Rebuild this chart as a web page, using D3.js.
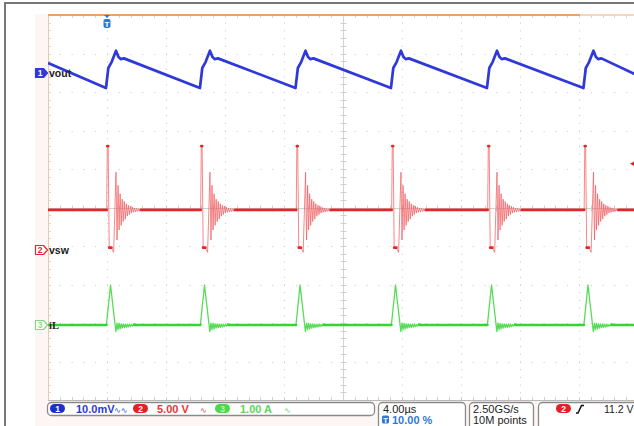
<!DOCTYPE html>
<html><head><meta charset="utf-8">
<script src="https://cdn.jsdelivr.net/npm/d3@7"></script>
<style>body{margin:0;background:#fff}svg{display:block}</style>
</head><body><svg id="c" width="634" height="426"></svg>
<script>
// ---------------- DATA ----------------
// switching instants (µs, trigger = 0)
const eventTimes = [0, 6.37, 12.85, 19.32, 25.83, 32.37];
// ch1 vout, one switching cycle (µs offset, mV)
const voutT = [-0.07, 0.09, 0.32, 0.61, 0.77, 0.93, 1.15];
const voutV = [-3.9, 1.3, 2.9, 5.8, 4.2, 3.6, 3.8];
const voutEdge = [2.6, -0.7];          // mV at left / right screen edge
// ch2 vsw, one switching cycle (µs offset, V)
const vswT = [-0.02, 0.02, 0.08, 0.15, 0.30, 0.45, 0.61, 0.68, 0.75, 0.82, 0.89, 0.96, 1.03, 1.10, 1.17, 1.24, 1.31, 1.38, 1.45, 1.52, 1.59, 1.66, 1.73, 1.80, 1.87, 1.94, 2.01, 2.08, 2.15, 2.22, 2.30];
const vswV = [5.2, 13.5, 13.5, 0.3, 0.3, -0.3, 10.1, 1.3, 8.4, 2.6, 7.3, 3.2, 6.6, 3.7, 6.3, 4.0, 6.0, 4.4, 5.8, 4.6, 5.7, 4.8, 5.55, 4.9, 5.45, 4.95, 5.4, 5.0, 5.35, 5.05, 5.2];
const vswEdge = [5.2, 5.2];
// ch3 iL, one switching cycle (µs offset, A)
const iLT = [-0.04, 0.24, 0.60, 0.68, 0.75, 0.82, 0.89, 0.96, 1.03, 1.10, 1.17, 1.24, 1.31, 1.38, 1.45, 1.52, 1.59, 1.66, 1.73, 1.83, 1.95];
const iLV = [0.0, 1.04, -0.17, 0.05, -0.12, 0.04, -0.10, 0.03, -0.08, 0.03, -0.07, 0.02, -0.06, 0.02, -0.05, 0.02, -0.04, 0.01, -0.03, 0.01, 0.0];
const iLEdge = [0.0, 0.0];
// labels / readouts
const channelNames = ["vout", "vsw", "iL"];
const channelNums = ["1", "2", "3"];
const channelScales = ["10.0mV", "5.00 V", "1.00 A"];
const horizReadout = ["4.00µs", "10.00 %"];
const acqReadout = ["2.50GS/s", "10M points"];
const trigReadout = ["2", "11.2 V"];
const timeDomain = [-4, 36];
const trigLevelV = 11.2;

// ---------------- LAYOUT ----------------
const svg = d3.select("#c");
const GX = 48, GY = 15, GW = 590, GH = 385;
const xDiv = d3.scaleLinear().domain([0, 10]).range([GX, GX + GW]);
const yDiv = d3.scaleLinear().domain([0, 10]).range([GY, GY + GH]);
const x = d3.scaleLinear().domain(timeDomain).range([GX, GX + GW]);
const DH = GH / 10;
// per-channel vertical scales: zero-marker position & units/div
const chZero = [73, 250, 325];
const chPerDiv = [10, 5, 1];
const yS = chZero.map((z, i) => d3.scaleLinear().domain([0, chPerDiv[i]]).range([z, z - DH]));
const colors = ["#2f38d8", "#e4262b", "#35d435"];

// background
svg.append("rect").attr("width", 634).attr("height", 426).attr("fill", "#fff");
svg.append("rect").attr("x", 35).attr("y", 14).attr("width", 600).attr("height", 412).attr("fill", "#fdf6f4");
svg.append("rect").attr("x", GX).attr("y", GY).attr("width", GW).attr("height", GH).attr("fill", "#fff");
// outer frame
svg.append("path").attr("d", "M5,426 V3 H634").attr("fill", "none").attr("stroke", "#777").attr("stroke-width", 2);

// ---------------- GRID ----------------
const grid = svg.append("g");
d3.range(1, 11).filter(i => i !== 5).forEach(i => {
  grid.append("line").attr("x1", Math.round(xDiv(i)) + 0.5).attr("x2", Math.round(xDiv(i)) + 0.5)
    .attr("y1", GY).attr("y2", GY + GH).attr("stroke", "#c8c8c8").attr("stroke-dasharray", `1,${DH / 5 - 1}`);
});
d3.range(1, 10).filter(j => j !== 5).forEach(j => {
  grid.append("line").attr("y1", Math.round(yDiv(j)) + 0.5).attr("y2", Math.round(yDiv(j)) + 0.5)
    .attr("x1", GX).attr("x2", GX + GW).attr("stroke", "#c8c8c8").attr("stroke-dasharray", `1,${GW / 50 - 1}`);
});
const cx = Math.round(xDiv(5)) + 0.5, cy = Math.round(yDiv(5)) + 0.5;
grid.append("line").attr("x1", cx).attr("x2", cx).attr("y1", GY).attr("y2", GY + GH).attr("stroke", "#d2d2d2");
grid.append("line").attr("x1", GX).attr("x2", GX + GW).attr("y1", cy).attr("y2", cy).attr("stroke", "#d2d2d2");
d3.range(1, 50).forEach(k => {
  const yy = Math.round(yDiv(k / 5)) + 0.5;
  grid.append("line").attr("x1", cx - 3).attr("x2", cx + 3).attr("y1", yy).attr("y2", yy).attr("stroke", "#cfcfcf");
  grid.append("line").attr("x1", GX).attr("x2", GX + 3).attr("y1", yy).attr("y2", yy).attr("stroke", "#e6cfc0");
});
d3.range(1, 50).forEach(k => {
  const xx = Math.round(xDiv(k / 5)) + 0.5;
  grid.append("line").attr("y1", cy - 3).attr("y2", cy + 3).attr("x1", xx).attr("x2", xx).attr("stroke", "#cfcfcf");
  grid.append("line").attr("y1", GY + GH - 3).attr("y2", GY + GH).attr("x1", xx).attr("x2", xx).attr("stroke", "#cfcfcf");
  grid.append("line").attr("y1", GY).attr("y2", GY + 3).attr("x1", xx).attr("x2", xx).attr("stroke", "#d8d8d8");
});
// frame edges
grid.append("line").attr("x1", GX + 0.5).attr("x2", GX + 0.5).attr("y1", GY).attr("y2", GY + GH).attr("stroke", "#e7c9b4");
grid.append("line").attr("x1", GX).attr("x2", GX + GW).attr("y1", GY + GH + 0.5).attr("y2", GY + GH + 0.5).attr("stroke", "#b8b8b8");
grid.append("line").attr("x1", GX).attr("x2", 580).attr("y1", GY).attr("y2", GY).attr("stroke", "#e0883c").attr("stroke-width", 1.6);
grid.append("line").attr("x1", 580).attr("x2", 634).attr("y1", GY).attr("y2", GY).attr("stroke", "#f2cba8").attr("stroke-width", 1.6);

// ---------------- TRACES ----------------
function buildSeries(tT, tV, edge) {
  const pts = [[timeDomain[0], edge[0]]];
  eventTimes.forEach(ev => tT.forEach((t, i) => pts.push([ev + t, tV[i]])));
  pts.push([timeDomain[1], edge[1]]);
  return pts;
}
const series = [buildSeries(voutT, voutV, voutEdge), buildSeries(vswT, vswV, vswEdge), buildSeries(iLT, iLV, iLEdge)];
svg.append("clipPath").attr("id", "pc").append("rect").attr("x", GX).attr("y", GY).attr("width", GW).attr("height", GH);
const traces = svg.append("g").attr("clip-path", "url(#pc)");
const thin = [{w: 2.7, c: colors[0], o: 1}, {w: 0.9, c: "#f05a5e", o: 0.8}, {w: 1.3, c: "#55dd55", o: 1}];
const flatTol = [null, 0.1, 0.015];
series.forEach((pts, i) => {
  const line = d3.line().x(d => x(d[0])).y(d => yS[i](d[1]));
  traces.append("path").attr("d", line(pts)).attr("fill", "none")
    .attr("stroke", thin[i].c).attr("stroke-width", thin[i].w).attr("stroke-opacity", thin[i].o)
    .attr("stroke-linejoin", "round");
  if (flatTol[i] !== null) {
    const segs = [];
    for (let k = 0; k < pts.length - 1; k++) {
      if (Math.abs(pts[k + 1][1] - pts[k][1]) < flatTol[i]) segs.push([pts[k], pts[k + 1]]);
    }
    traces.selectAll(null).data(segs).enter().append("line")
      .attr("x1", d => x(d[0][0])).attr("x2", d => x(d[1][0]))
      .attr("y1", d => yS[i](d[0][1])).attr("y2", d => yS[i](d[1][1]))
      .attr("stroke", colors[i]).attr("stroke-width", 2.7).attr("stroke-linecap", "round");
  }
});

// ---------------- MARKERS ----------------
// trigger position marker
const tx = x(0);
svg.append("path").attr("d", `M${tx - 3},${GY} L${tx + 3},${GY} L${tx},${GY + 3} Z`).attr("fill", "#2f78d8");
svg.append("rect").attr("x", tx - 3.5).attr("y", GY + 4).attr("width", 7).attr("height", 9).attr("rx", 2).attr("fill", "#2f78d8");
svg.append("text").attr("x", tx).attr("y", GY + 11.5).attr("text-anchor", "middle").attr("fill", "#fff")
  .attr("font-family", "Liberation Sans").attr("font-weight", "bold").attr("font-size", 8).text("T");
// trigger level marker
const tly = yS[1](trigLevelV);
svg.append("path").attr("d", `M630,${tly} L636,${tly - 3.5} L636,${tly + 3.5} Z`).attr("fill", colors[1]);

// channel ground markers + names
chZero.forEach((z, i) => {
  const g = svg.append("g");
  const filled = i === 0;
  g.append("path").attr("d", `M35.5,${z - 4.5} H43.5 L47.5,${z} L43.5,${z + 4.5} H35.5 Z`)
    .attr("fill", filled ? colors[0] : "#fff").attr("stroke", i === 2 ? "#7fdc7f" : colors[i]).attr("stroke-width", 1.2)
    .attr("stroke-linejoin", "round");
  g.append("text").attr("x", 40).attr("y", z + 3.2).attr("text-anchor", "middle")
    .attr("fill", filled ? "#fff" : (i === 2 ? "#8ade8a" : colors[i]))
    .attr("font-family", "Liberation Sans").attr("font-weight", "bold").attr("font-size", 8.5).text(channelNums[i]);
  g.append("text").attr("x", 49).attr("y", z + 3.5)
    .attr("fill", "#222").attr("font-family", i === 2 ? "Liberation Serif" : "Liberation Sans")
    .attr("font-weight", "bold").attr("font-size", 10.5).text(channelNames[i]);
});

// ---------------- STATUS BAR ----------------
const sb = svg.append("g").attr("font-family", "Liberation Sans");
function box(x0, x1, y0, y1) {
  sb.append("rect").attr("x", x0 + 0.5).attr("y", y0 + 0.5).attr("width", x1 - x0).attr("height", y1 - y0)
    .attr("rx", 4).attr("fill", "#fff").attr("stroke", "#8a8a8a").attr("stroke-width", 1.3);
}
box(47, 374, 402, 415);
box(378, 465, 402, 432);
box(469, 533, 402, 432);
box(538, 640, 402, 432);
function pill(x0, col, label, tcol) {
  sb.append("rect").attr("x", x0).attr("y", 404).attr("width", 15).attr("height", 9).attr("rx", 4.5).attr("fill", col);
  sb.append("text").attr("x", x0 + 7.5).attr("y", 411.8).attr("text-anchor", "middle").attr("fill", tcol || "#fff")
    .attr("font-size", 8.5).attr("font-weight", "bold").text(label);
}
const pillCols = ["#1f2fc8", "#e42025", "#4bd84b"];
const scaleCols = ["#2b3bd0", "#e8333a", "#5bd65b"];
const pillX = [50, 133, 215];
const textX = [76, 157, 240];
const sineX = [114, 200, 284];
const sineTxt = ["∿∿", "∿", "∿"];
channelNums.forEach((n, i) => {
  pill(pillX[i], pillCols[i], n, i === 2 ? "#b8f0b8" : "#fff");
  sb.append("text").attr("x", textX[i]).attr("y", 412.5).attr("fill", scaleCols[i])
    .attr("font-size", 11).attr("font-weight", "bold").text(channelScales[i]);
  sb.append("text").attr("x", sineX[i]).attr("y", 412.5).attr("fill", scaleCols[i])
    .attr("font-family", "DejaVu Sans").attr("font-size", 8).text(sineTxt[i]);
});
// horizontal readout
sb.append("text").attr("x", 383).attr("y", 413).attr("fill", "#222").attr("font-size", 11).text(horizReadout[0]);
sb.append("rect").attr("x", 382).attr("y", 415.5).attr("width", 7).attr("height", 8).attr("rx", 1.5).attr("fill", "#2f78d8");
sb.append("text").attr("x", 385.5).attr("y", 422.5).attr("text-anchor", "middle").attr("fill", "#fff")
  .attr("font-size", 7.5).attr("font-weight", "bold").text("T");
sb.append("text").attr("x", 392).attr("y", 424).attr("fill", "#2f78d8").attr("font-size", 11).attr("font-weight", "bold").text(horizReadout[1]);
// acquisition readout
sb.append("text").attr("x", 473).attr("y", 413).attr("fill", "#222").attr("font-size", 11).text(acqReadout[0]);
sb.append("text").attr("x", 473).attr("y", 424).attr("fill", "#222").attr("font-size", 11).text(acqReadout[1]);
// trigger readout
pill(556, "#e42025", trigReadout[0]);
sb.append("path").attr("d", "M576,413 H578 L581.5,405.5 H584").attr("fill", "none").attr("stroke", "#111").attr("stroke-width", 1.5);
sb.append("text").attr("x", 604).attr("y", 413).attr("fill", "#222").attr("font-size", 10.5).text(trigReadout[1]);
</script></body></html>
